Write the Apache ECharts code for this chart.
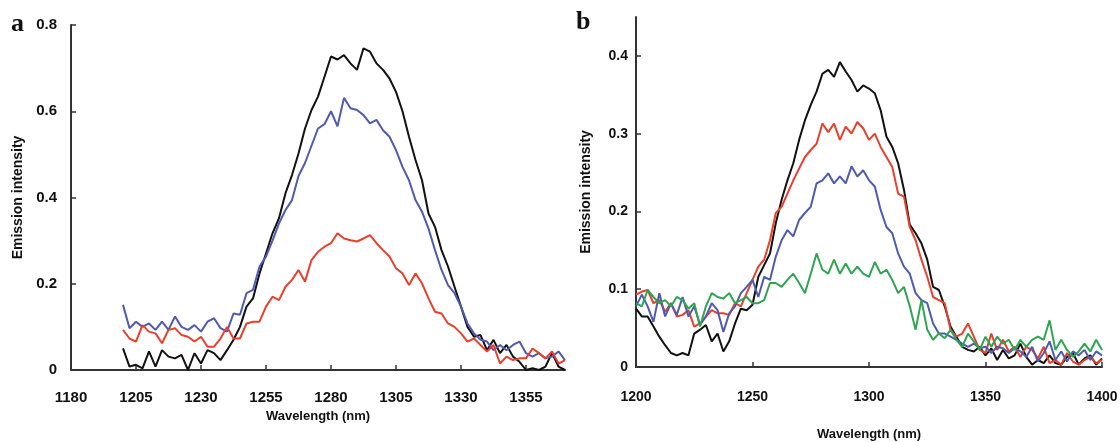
<!DOCTYPE html>
<html lang="en">
<head>
<meta charset="UTF-8">
<title>Emission spectra</title>
<script src="https://cdn.jsdelivr.net/npm/echarts@6/dist/echarts.min.js"></script>
<style>
  html, body { margin: 0; padding: 0; background: #fff; }
  #main { width: 1120px; height: 442px; }
</style>
</head>
<body>
<div id="main"></div>
<script>
// panel a: wavelengths (nm) and the three emission curves
var wavelengthA = [1200, 1202.5, 1205, 1207.5, 1210, 1212.5, 1215, 1217.5, 1220, 1222.5, 1225, 1227.5, 1230, 1232.5, 1235, 1237.5, 1240, 1242.5, 1245, 1247.5, 1250, 1252.5, 1255, 1257.5, 1260, 1262.5, 1265, 1267.5, 1270, 1272.5, 1275, 1277.5, 1280, 1282.5, 1285, 1287.5, 1290, 1292.5, 1295, 1297.5, 1300, 1302.5, 1305, 1307.5, 1310, 1312.5, 1315, 1317.5, 1320, 1322.5, 1325, 1327.5, 1330, 1332.5, 1335, 1337.5, 1340, 1342.5, 1345, 1347.5, 1350, 1352.5, 1355, 1357.5, 1360, 1362.5, 1365, 1367.5, 1370];
var blackA = [0.05, 0.008, 0.012, 0.004, 0.043, 0.008, 0.046, 0.031, 0.027, 0.035, 0.0, 0.039, 0.015, 0.046, 0.039, 0.023, 0.046, 0.07, 0.10, 0.147, 0.166, 0.224, 0.27, 0.317, 0.352, 0.41, 0.452, 0.502, 0.56, 0.603, 0.634, 0.68, 0.727, 0.72, 0.73, 0.711, 0.696, 0.746, 0.738, 0.711, 0.696, 0.676, 0.645, 0.60, 0.541, 0.487, 0.44, 0.363, 0.332, 0.278, 0.24, 0.193, 0.147, 0.10, 0.077, 0.081, 0.046, 0.07, 0.039, 0.058, 0.031, 0.019, 0.0, 0.004, 0.0, 0.008, 0.039, 0.008, 0.0];
var blueA = [0.151, 0.097, 0.112, 0.10, 0.108, 0.093, 0.112, 0.093, 0.124, 0.10, 0.093, 0.104, 0.089, 0.112, 0.12, 0.097, 0.089, 0.131, 0.128, 0.178, 0.186, 0.24, 0.263, 0.30, 0.34, 0.371, 0.394, 0.45, 0.48, 0.52, 0.56, 0.57, 0.60, 0.565, 0.631, 0.607, 0.603, 0.591, 0.572, 0.58, 0.556, 0.541, 0.51, 0.471, 0.44, 0.394, 0.367, 0.328, 0.278, 0.232, 0.197, 0.178, 0.147, 0.108, 0.085, 0.07, 0.066, 0.046, 0.058, 0.046, 0.058, 0.066, 0.039, 0.031, 0.039, 0.027, 0.031, 0.043, 0.023];
var redA = [0.093, 0.073, 0.066, 0.104, 0.089, 0.085, 0.062, 0.093, 0.097, 0.081, 0.077, 0.066, 0.077, 0.054, 0.054, 0.073, 0.10, 0.073, 0.073, 0.108, 0.112, 0.112, 0.147, 0.17, 0.162, 0.193, 0.209, 0.232, 0.205, 0.255, 0.274, 0.286, 0.294, 0.317, 0.305, 0.301, 0.298, 0.305, 0.313, 0.294, 0.278, 0.263, 0.236, 0.224, 0.197, 0.224, 0.201, 0.166, 0.135, 0.131, 0.108, 0.10, 0.085, 0.066, 0.073, 0.058, 0.043, 0.058, 0.015, 0.031, 0.023, 0.027, 0.027, 0.05, 0.039, 0.027, 0.043, 0.015, 0.023];

// panel b: wavelengths (nm) and the four emission curves
var wavelengthB = [1200, 1202.5, 1205, 1207.5, 1210, 1212.5, 1215, 1217.5, 1220, 1222.5, 1225, 1227.5, 1230, 1232.5, 1235, 1237.5, 1240, 1242.5, 1245, 1247.5, 1250, 1252.5, 1255, 1257.5, 1260, 1262.5, 1265, 1267.5, 1270, 1272.5, 1275, 1277.5, 1280, 1282.5, 1285, 1287.5, 1290, 1292.5, 1295, 1297.5, 1300, 1302.5, 1305, 1307.5, 1310, 1312.5, 1315, 1317.5, 1320, 1322.5, 1325, 1327.5, 1330, 1332.5, 1335, 1337.5, 1340, 1342.5, 1345, 1347.5, 1350, 1352.5, 1355, 1357.5, 1360, 1362.5, 1365, 1367.5, 1370, 1372.5, 1375, 1377.5, 1380, 1382.5, 1385, 1387.5, 1390, 1392.5, 1395, 1397.5, 1400];
var blackB = [0.075, 0.065, 0.065, 0.052, 0.039, 0.028, 0.018, 0.015, 0.018, 0.015, 0.043, 0.048, 0.054, 0.033, 0.043, 0.02, 0.033, 0.056, 0.075, 0.073, 0.08, 0.116, 0.131, 0.146, 0.185, 0.215, 0.24, 0.262, 0.292, 0.317, 0.337, 0.354, 0.377, 0.382, 0.373, 0.392, 0.38, 0.369, 0.354, 0.362, 0.358, 0.352, 0.33, 0.296, 0.283, 0.262, 0.228, 0.183, 0.172, 0.159, 0.138, 0.103, 0.099, 0.078, 0.052, 0.039, 0.026, 0.022, 0.02, 0.026, 0.015, 0.024, 0.009, 0.022, 0.011, 0.015, 0.03, 0.013, 0.003, 0.009, 0.005, 0.015, 0.005, 0.003, 0.013, 0.018, 0.003, 0.011, 0.015, 0.003, 0.011];
var redB = [0.093, 0.097, 0.099, 0.082, 0.086, 0.071, 0.082, 0.065, 0.067, 0.073, 0.052, 0.056, 0.065, 0.073, 0.069, 0.069, 0.067, 0.082, 0.078, 0.095, 0.112, 0.129, 0.138, 0.163, 0.198, 0.206, 0.223, 0.24, 0.255, 0.27, 0.279, 0.287, 0.313, 0.302, 0.313, 0.292, 0.309, 0.30, 0.315, 0.307, 0.292, 0.30, 0.283, 0.27, 0.257, 0.223, 0.219, 0.18, 0.163, 0.138, 0.116, 0.09, 0.086, 0.082, 0.048, 0.039, 0.043, 0.056, 0.039, 0.022, 0.018, 0.043, 0.022, 0.035, 0.02, 0.026, 0.013, 0.026, 0.022, 0.011, 0.026, 0.005, 0.009, 0.003, 0.018, 0.007, 0.003, 0.009, 0.013, 0.005, 0.009];
var blueB = [0.078, 0.093, 0.078, 0.058, 0.095, 0.065, 0.082, 0.067, 0.09, 0.065, 0.078, 0.054, 0.065, 0.082, 0.073, 0.045, 0.069, 0.078, 0.095, 0.103, 0.112, 0.09, 0.116, 0.112, 0.142, 0.163, 0.176, 0.168, 0.189, 0.198, 0.206, 0.236, 0.24, 0.249, 0.236, 0.245, 0.236, 0.258, 0.245, 0.253, 0.24, 0.232, 0.202, 0.18, 0.172, 0.146, 0.129, 0.12, 0.095, 0.086, 0.082, 0.056, 0.043, 0.043, 0.039, 0.035, 0.03, 0.026, 0.03, 0.024, 0.026, 0.018, 0.026, 0.024, 0.018, 0.024, 0.02, 0.013, 0.026, 0.007, 0.018, 0.033, 0.009, 0.02, 0.007, 0.02, 0.015, 0.022, 0.009, 0.02, 0.015];
var greenB = [0.082, 0.078, 0.099, 0.09, 0.082, 0.086, 0.078, 0.09, 0.086, 0.075, 0.082, 0.052, 0.078, 0.095, 0.09, 0.088, 0.095, 0.082, 0.086, 0.09, 0.082, 0.082, 0.086, 0.108, 0.108, 0.103, 0.112, 0.12, 0.108, 0.095, 0.12, 0.146, 0.125, 0.12, 0.138, 0.12, 0.133, 0.12, 0.129, 0.12, 0.116, 0.135, 0.12, 0.125, 0.112, 0.095, 0.103, 0.078, 0.048, 0.086, 0.048, 0.035, 0.043, 0.037, 0.048, 0.035, 0.026, 0.043, 0.033, 0.022, 0.039, 0.026, 0.039, 0.03, 0.035, 0.022, 0.035, 0.026, 0.035, 0.039, 0.035, 0.06, 0.022, 0.035, 0.022, 0.013, 0.02, 0.03, 0.02, 0.035, 0.022];

var ticksA = { min: 1180, max: 1370, step: 25 };
var ticksB = { min: 1200, max: 1400, step: 50 };

function pairs(xs, ys) {
    return xs.map(function (x, i) { return [x, ys[i]]; });
}

var FONT = '"Liberation Sans", Arial, sans-serif';
var AXIS_COLOR = '#333';

function xAxisCfg(grid, t, labelMargin, nameGap, fontSize) {
    return {
        type: 'value', gridIndex: grid, min: t.min, max: t.max, interval: t.step,
        name: 'Wavelength (nm)', nameLocation: 'middle', nameGap: nameGap,
        nameTextStyle: { fontFamily: FONT, fontWeight: 'bold', fontSize: 13, color: '#111' },
        axisLine: { show: true, onZero: false, lineStyle: { color: AXIS_COLOR, width: 2 } },
        axisTick: { show: true, inside: true, length: 5, lineStyle: { color: AXIS_COLOR, width: 1.5 } },
        axisLabel: {
            margin: labelMargin, fontFamily: FONT, fontWeight: 'bold', fontSize: fontSize, color: '#111',
            showMaxLabel: (t.max - t.min) % t.step === 0,
            formatter: function (v) { return String(v); }
        },
        splitLine: { show: false }
    };
}

function yAxisCfg(grid, max, step, labelMargin, nameGap, fontSize) {
    return {
        type: 'value', gridIndex: grid, min: 0, max: max, interval: step,
        name: 'Emission intensity', nameLocation: 'middle', nameGap: nameGap,
        nameTextStyle: { fontFamily: FONT, fontWeight: 'bold', fontSize: 14, color: '#111' },
        axisLine: { show: true, lineStyle: { color: AXIS_COLOR, width: 2 } },
        axisTick: { show: true, inside: true, length: 5, lineStyle: { color: AXIS_COLOR, width: 1.5 } },
        axisLabel: {
            margin: labelMargin, fontFamily: FONT, fontWeight: 'bold', fontSize: fontSize, color: '#111',
            showMaxLabel: Math.abs(max / step - Math.round(max / step)) < 1e-6,
            formatter: function (v) { return v === 0 ? '0' : v.toFixed(1); }
        },
        splitLine: { show: false }
    };
}

function line(name, xi, data, color) {
    return {
        name: name, type: 'line', xAxisIndex: xi, yAxisIndex: xi,
        data: data, showSymbol: false, symbol: 'none',
        lineStyle: { color: color, width: 2 }, itemStyle: { color: color },
        animation: false
    };
}

var myChart = echarts.init(document.getElementById('main'), null, { renderer: 'canvas' });

var option = {
    backgroundColor: '#fff',
    animation: false,
    title: [
        { text: 'a', left: 6, top: 6, textStyle: { fontFamily: '"Liberation Serif", "Times New Roman", serif', fontWeight: 'bold', fontSize: 26, color: '#111' } },
        { text: 'b', left: 571, top: 4, textStyle: { fontFamily: '"Liberation Serif", "Times New Roman", serif', fontWeight: 'bold', fontSize: 26, color: '#111' } }
    ],
    grid: [
        { left: 71, top: 25, width: 494, height: 345, outerBoundsMode: 'none', containLabel: false },
        { left: 636, top: 17, width: 466, height: 350, outerBoundsMode: 'none', containLabel: false }
    ],
    xAxis: [
        xAxisCfg(0, ticksA, 20, 40, 15),
        xAxisCfg(1, ticksB, 23, 61, 14)
    ],
    yAxis: [
        yAxisCfg(0, 0.8, 0.2, 14, 46, 15),
        yAxisCfg(1, 0.45, 0.1, 8, 43, 14)
    ],
    series: [
        line('a-black', 0, pairs(wavelengthA, blackA), '#111111'),
        line('a-blue', 0, pairs(wavelengthA, blueA), '#4f5bb0'),
        line('a-red', 0, pairs(wavelengthA, redA), '#e8402c'),
        line('b-black', 1, pairs(wavelengthB, blackB), '#111111'),
        line('b-red', 1, pairs(wavelengthB, redB), '#e8402c'),
        line('b-blue', 1, pairs(wavelengthB, blueB), '#4f5bb0'),
        line('b-green', 1, pairs(wavelengthB, greenB), '#2fa552')
    ]
};

myChart.setOption(option);
</script>
</body>
</html>
